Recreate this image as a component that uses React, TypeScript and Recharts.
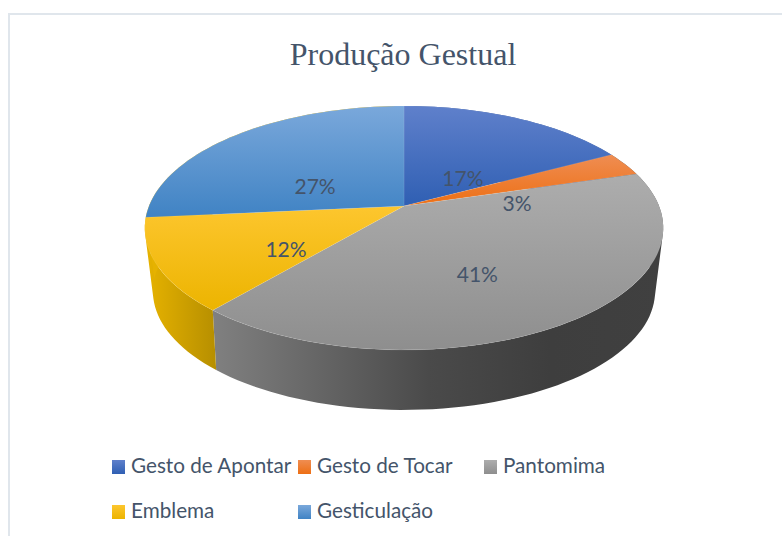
import { Pie, PieChart, Legend } from "recharts";

// Share of each gesture type (labels show them rounded)
const categories = ["Gesto de Apontar", "Gesto de Tocar", "Pantomima", "Emblema", "Gesticulação"];
const shares = [17.2, 3.2, 40.8, 12.3, 26.5];

const topStops = [
  ["#5f80cb", "#2f5fb3"],
  ["#ef8d52", "#ed6f14"],
  ["#adadad", "#8e8e8e"],
  ["#fdc62e", "#ecb400"],
  ["#7aa8db", "#4083c4"],
];
const wallColors = ["#2c4f96", "#404040", "#404040", "#b58e00", "#e6b200"];
// small hand adjustments for the percent labels
const labelNudge = [
  [-2, 18],
  [-1, 18],
  [-2, 14],
  [0, 14],
  [0, 17],
];

const TEXT = "#44546a";
const WIDTH = 782;
const HEIGHT = 536;
const CX = 404;
const CY = 206;
const RADIUS = 255;
const TILT = 118 / 255; // vertical squash of the disc
const PERSP = 0.18; // back of the disc recedes
const LOWER_PERSP = 0.2;
const LOWER_DROP = 61.6;
const LOWER_SHRINK = 9;

const topData = categories.map((name, i) => ({ name, value: shares[i], fill: `url(#top-${i})` }));
const wallData = categories.map((name, i) => ({
  name,
  value: shares[i],
  fill: i === 2 ? "url(#wall-grey)" : i === 3 ? "url(#wall-yellow)" : wallColors[i],
}));

// project a point on the tilted disc; r is the radius, deg the pie angle
const project = (cx: number, cy: number, r: number, deg: number, frac = 1, persp = PERSP) => {
  const rad = (deg * Math.PI) / 180;
  const u = Math.cos(rad) * frac;
  const v = Math.sin(rad) * frac;
  const d = 1 + persp * v;
  return [cx + (r * u) / d, cy - (r * TILT * v) / d];
};

const arcPoints = (cx: number, cy: number, r: number, start: number, end: number, persp = PERSP) => {
  const steps = Math.max(2, Math.ceil(Math.abs(end - start) / 2));
  const pts: number[][] = [];
  for (let i = 0; i <= steps; i++) {
    pts.push(project(cx, cy, r, start + ((end - start) * i) / steps, 1, persp));
  }
  return pts;
};

const toPath = (pts: number[][]) =>
  pts.map((p, i) => `${i ? "L" : "M"}${p[0].toFixed(2)},${p[1].toFixed(2)}`).join("") + "Z";

// all wall quads must wind the same way or overlaps cancel under nonzero fill
const signedArea = (pts: number[][]) =>
  pts.reduce((sum, p, i) => {
    const q = pts[(i + 1) % pts.length];
    return sum + p[0] * q[1] - q[0] * p[1];
  }, 0);

const TopSlice = (props: any) => {
  const { cx, cy, outerRadius, startAngle, endAngle, fill } = props;
  const pts = [[cx, cy], ...arcPoints(cx, cy, outerRadius, startAngle, endAngle)];
  return <path d={toPath(pts)} fill={fill} stroke="#ffffff" strokeOpacity={0.12} strokeWidth={0.75} />;
};

// wall is built from small quads so the side silhouette stays filled
const WallSlice = (props: any) => {
  const { cx, cy, outerRadius, startAngle, endAngle, fill } = props;
  const upper = arcPoints(cx, cy, outerRadius, startAngle, endAngle);
  const lower = arcPoints(cx, cy + LOWER_DROP, outerRadius - LOWER_SHRINK, startAngle, endAngle, LOWER_PERSP);
  let d = "";
  for (let i = 0; i < upper.length - 1; i++) {
    const quad = [upper[i], upper[i + 1], lower[i + 1], lower[i]];
    d += toPath(signedArea(quad) < 0 ? quad.reverse() : quad);
  }
  return <path d={d} fill={fill} />;
};

const renderLabel = (props: any) => {
  const { cx, cy, outerRadius, midAngle, index } = props;
  const [x, y] = project(cx, cy, outerRadius, midAngle, 0.5);
  return (
    <text
      x={x + labelNudge[index][0]}
      y={y + labelNudge[index][1]}
      textAnchor="middle"
      dominantBaseline="central"
      fill={TEXT}
      fontFamily="Lato"
      fontSize={21}
    >
      {`${Math.round(shares[index])}%`}
    </text>
  );
};

const LegendGrid = () => (
  <div style={{ position: "relative", width: WIDTH, height: 80 }}>
    {categories.map((name, i) => (
      <div
        key={name}
        style={{
          position: "absolute",
          left: 112 + (i % 3) * 186,
          top: Math.floor(i / 3) * 45,
          display: "flex",
          alignItems: "center",
          height: 14,
          whiteSpace: "nowrap",
          fontFamily: "Lato",
          fontSize: 20.7,
          color: TEXT,
        }}
      >
        <span
          style={{
            width: 13,
            height: 14,
            marginRight: 6,
            background: `linear-gradient(${topStops[i][0]}, ${topStops[i][1]})`,
          }}
        />
        <span style={{ position: "relative", top: -2 }}>{name}</span>
      </div>
    ))}
  </div>
);

export default function App() {
  return (
    <div style={{ position: "absolute", left: 0, top: 0, width: WIDTH, height: HEIGHT, overflow: "hidden", background: "#fff" }}>
      <div
        style={{
          position: "absolute",
          left: 8,
          top: 13,
          right: 0,
          bottom: 0,
          borderLeft: "2px solid #e0e6ec",
          borderTop: "2px solid #e0e6ec",
        }}
      />
      <PieChart width={WIDTH} height={HEIGHT} margin={{ top: 0, right: 0, bottom: 0, left: 0 }}>
        <defs>
          {topStops.map((stops, i) => (
            <linearGradient key={i} id={`top-${i}`} x1="0" y1="0" x2="0" y2="1">
              <stop offset="0%" stopColor={stops[0]} />
              <stop offset="100%" stopColor={stops[1]} />
            </linearGradient>
          ))}
          <linearGradient id="wall-grey" gradientUnits="userSpaceOnUse" x1="213" y1="0" x2="663" y2="0">
            <stop offset="0%" stopColor="#808080" />
            <stop offset="48%" stopColor="#4a4a4a" />
            <stop offset="75%" stopColor="#3e3e3e" />
            <stop offset="100%" stopColor="#404040" />
          </linearGradient>
          <linearGradient id="wall-yellow" gradientUnits="userSpaceOnUse" x1="147" y1="0" x2="218" y2="0">
            <stop offset="0%" stopColor="#e6b200" />
            <stop offset="100%" stopColor="#b58e00" />
          </linearGradient>
        </defs>
        <text x={403} y={65} textAnchor="middle" fontFamily="Liberation Serif" fontSize={32} fill={TEXT}>
          Produção Gestual
        </text>
        <Pie
          data={wallData}
          dataKey="value"
          nameKey="name"
          cx={CX}
          cy={CY}
          outerRadius={RADIUS}
          startAngle={90}
          endAngle={-270}
          stroke="none"
          legendType="none"
          shape={WallSlice}
          isAnimationActive={false}
        />
        <Pie
          data={topData}
          dataKey="value"
          nameKey="name"
          cx={CX}
          cy={CY}
          outerRadius={RADIUS}
          startAngle={90}
          endAngle={-270}
          stroke="none"
          shape={TopSlice}
          label={renderLabel}
          labelLine={false}
          isAnimationActive={false}
        />
        <Legend content={LegendGrid} wrapperStyle={{ position: "absolute", left: 0, top: 460, width: WIDTH }} />
      </PieChart>
    </div>
  );
}
